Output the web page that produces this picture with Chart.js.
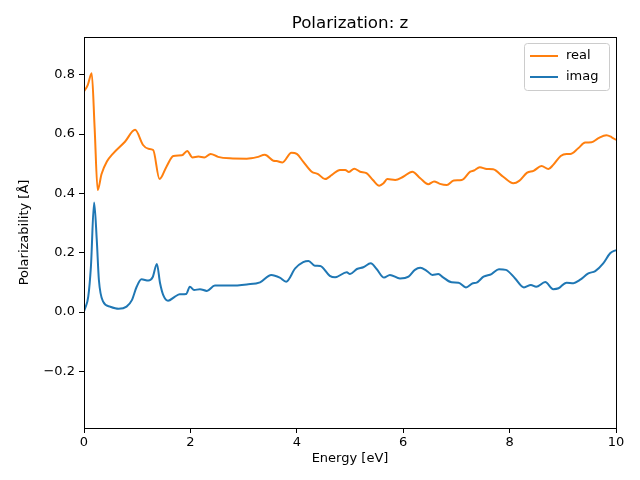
<!DOCTYPE html>
<html>
<head>
<meta charset="utf-8">
<script src="https://cdn.jsdelivr.net/npm/chart.js@4.4.1/dist/chart.umd.min.js"></script>
<style>
html,body{margin:0;padding:0;background:#fff;}
#wrap{width:640px;height:480px;}
</style>
</head>
<body>
<div id="wrap"><canvas id="c" width="640" height="480"></canvas></div>
<script>
const realE = [0.00,0.07,0.145,0.20,0.257,0.33,0.43,0.55,0.77,0.96,1.11,1.21,1.30,1.42,1.55,1.68,1.84,1.94,2.04,2.15,2.26,2.38,2.52,2.74,3.06,3.25,3.40,3.56,3.62,3.73,3.90,4.00,4.12,4.28,4.40,4.53,4.66,4.81,4.91,4.98,5.08,5.19,5.31,5.43,5.55,5.63,5.70,5.85,6.00,6.17,6.32,6.47,6.58,6.69,6.82,6.95,7.10,7.26,7.33,7.44,7.57,7.69,7.88,8.07,8.18,8.33,8.45,8.60,8.73,8.82,8.96,9.07,9.14,9.29,9.42,9.54,9.67,9.82,9.92,10.00];
const realVals = [0.743,0.765,0.805,0.62,0.411,0.465,0.507,0.535,0.574,0.614,0.563,0.550,0.546,0.448,0.490,0.526,0.528,0.543,0.521,0.524,0.521,0.533,0.523,0.518,0.517,0.522,0.530,0.510,0.509,0.504,0.537,0.533,0.507,0.473,0.465,0.448,0.462,0.479,0.479,0.472,0.483,0.473,0.468,0.445,0.426,0.434,0.448,0.445,0.456,0.473,0.451,0.431,0.440,0.432,0.428,0.443,0.445,0.473,0.477,0.488,0.482,0.481,0.456,0.434,0.442,0.470,0.476,0.492,0.482,0.496,0.526,0.533,0.533,0.552,0.571,0.572,0.586,0.596,0.589,0.580];
const imagE = [0.00,0.02,0.08,0.13,0.19,0.24,0.28,0.36,0.49,0.65,0.80,0.90,0.99,1.08,1.21,1.29,1.37,1.43,1.49,1.58,1.71,1.80,1.92,1.99,2.07,2.18,2.31,2.46,2.74,3.06,3.31,3.52,3.68,3.80,3.97,4.12,4.22,4.34,4.44,4.62,4.72,4.94,5.00,5.13,5.25,5.39,5.50,5.64,5.75,5.94,6.10,6.22,6.32,6.44,6.55,6.66,6.75,6.91,7.04,7.18,7.31,7.38,7.51,7.66,7.80,7.93,8.10,8.27,8.40,8.50,8.67,8.82,8.92,9.07,9.20,9.32,9.48,9.61,9.76,9.89,10.00];
const imagVals = [0.003,0.012,0.052,0.153,0.369,0.243,0.108,0.035,0.018,0.011,0.018,0.040,0.085,0.110,0.106,0.117,0.162,0.097,0.057,0.038,0.052,0.060,0.061,0.085,0.074,0.077,0.071,0.089,0.089,0.093,0.100,0.125,0.116,0.102,0.147,0.168,0.172,0.156,0.155,0.122,0.117,0.134,0.128,0.145,0.151,0.164,0.145,0.116,0.125,0.113,0.119,0.142,0.149,0.139,0.125,0.128,0.117,0.100,0.099,0.083,0.097,0.099,0.119,0.128,0.144,0.142,0.114,0.083,0.091,0.085,0.101,0.077,0.080,0.099,0.097,0.108,0.130,0.138,0.164,0.198,0.209];
const xTicks = [0,2,4,6,8,10];
const yTicks = [-0.2,0.0,0.2,0.4,0.6,0.8];
const seriesNames = ['real','imag'];
const titleText = 'Polarization: z';

const FONT = "'DejaVu Sans', sans-serif";
const ORANGE = '#ff7f0e', BLUE = '#1f77b4';

const toPts = (xs, ys) => xs.map((x, i) => ({x: x, y: ys[i]}));

const decor = {
  id: 'decor',
  afterDraw(chart) {
    const ctx = chart.ctx, a = chart.chartArea;
    ctx.save();
    ctx.strokeStyle = '#000'; ctx.lineWidth = 1;
    ctx.strokeRect(Math.round(a.left) + 0.5, Math.round(a.top) + 0.5, Math.round(a.right - a.left), Math.round(a.bottom - a.top));
    ctx.fillStyle = '#000';
    ctx.font = '16.7px ' + FONT;
    ctx.textAlign = 'center'; ctx.textBaseline = 'alphabetic';
    ctx.fillText(titleText, (a.left + a.right) / 2, 28);
    const bx = 524.5, by = 43.5, bw = 85, bh = 47, r = 3;
    ctx.beginPath();
    ctx.moveTo(bx + r, by); ctx.lineTo(bx + bw - r, by); ctx.quadraticCurveTo(bx + bw, by, bx + bw, by + r);
    ctx.lineTo(bx + bw, by + bh - r); ctx.quadraticCurveTo(bx + bw, by + bh, bx + bw - r, by + bh);
    ctx.lineTo(bx + r, by + bh); ctx.quadraticCurveTo(bx, by + bh, bx, by + bh - r);
    ctx.lineTo(bx, by + r); ctx.quadraticCurveTo(bx, by, bx + r, by); ctx.closePath();
    ctx.fillStyle = 'rgba(255,255,255,0.8)'; ctx.fill();
    ctx.strokeStyle = '#cccccc'; ctx.lineWidth = 1; ctx.stroke();
    const cols = [ORANGE, BLUE];
    ctx.font = '13px ' + FONT; ctx.textAlign = 'left'; ctx.textBaseline = 'middle';
    seriesNames.forEach((n, i) => {
      const yy = 56 + i * 21;
      ctx.strokeStyle = cols[i]; ctx.lineWidth = 2;
      ctx.beginPath(); ctx.moveTo(530, yy); ctx.lineTo(558, yy); ctx.stroke();
      ctx.fillStyle = '#000'; ctx.fillText(n, 566, yy);
    });
    ctx.restore();
  }
};

new Chart(document.getElementById('c'), {
  type: 'line',
  data: {
    datasets: [
      {label: seriesNames[0], data: toPts(realE, realVals), borderColor: ORANGE, backgroundColor: ORANGE, borderWidth: 2, pointRadius: 0, cubicInterpolationMode: 'monotone', fill: false},
      {label: seriesNames[1], data: toPts(imagE, imagVals), borderColor: BLUE, backgroundColor: BLUE, borderWidth: 2, pointRadius: 0, cubicInterpolationMode: 'monotone', fill: false}
    ]
  },
  options: {
    responsive: false,
    animation: false,
    events: [],
    layout: {padding: {top: 37, right: 24, left: 0, bottom: 0}},
    plugins: {legend: {display: false}, title: {display: false}, tooltip: {enabled: false}},
    scales: {
      x: {
        type: 'linear', min: 0, max: 10,
        afterBuildTicks: s => { s.ticks = xTicks.map(v => ({value: v})); },
        afterFit: s => { s.height = 52; },
        grid: {display: true, drawOnChartArea: false, drawTicks: true, tickLength: 5, color: '#000'},
        border: {display: true, color: '#000'},
        ticks: {color: '#000', font: {family: FONT, size: 13}, padding: 2, maxRotation: 0, callback: v => String(v)},
        title: {display: true, text: 'Energy [eV]', color: '#000', font: {family: FONT, size: 13}, padding: {top: 3, bottom: 14}}
      },
      y: {
        type: 'linear', min: -0.391, max: 0.927,
        afterBuildTicks: s => { s.ticks = yTicks.map(v => ({value: v})); },
        afterFit: s => { s.width = 84; },
        grid: {display: true, drawOnChartArea: false, drawTicks: true, tickLength: 5, color: '#000'},
        border: {display: true, color: '#000'},
        ticks: {color: '#000', font: {family: FONT, size: 13}, padding: 4, callback: v => (v < 0 ? '\u2212' + Math.abs(v).toFixed(1) : v.toFixed(1))},
        title: {display: true, text: 'Polarizability [Å]', color: '#000', font: {family: FONT, size: 13}, padding: {top: 17, bottom: 4}}
      }
    }
  },
  plugins: [decor]
});
</script>
</body>
</html>
